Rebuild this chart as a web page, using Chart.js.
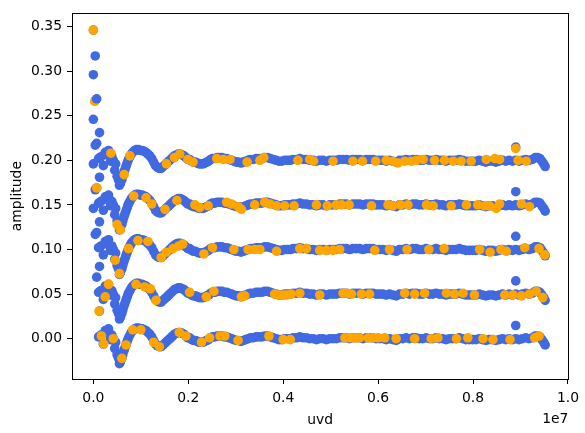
<!DOCTYPE html>
<html><head><meta charset="utf-8">
<script src="https://cdn.jsdelivr.net/npm/chart.js@4.4.1/dist/chart.umd.min.js"></script>
<style>html,body{margin:0;padding:0;background:#fff;}canvas{display:block;}</style>
</head><body>
<canvas id="c" width="585" height="433"></canvas>
<script>
// uvd values are given in units of 1e6
const UVD_UNIT = 1e6;
// vertical offset of each plotted band
const bandOffsets = [0, 0.05, 0.10, 0.15, 0.20];
// [uvd, amplitude] of the full (blue) sample
const bluePoints = [[0.00,0.146],[0.04,0.117],[0.07,0.069],[0.11,0.002],[0.13,0.031],[0.16,0.004],[0.21,-0.006],[0.25,0.009],[0.29,0.006],[0.32,0.011],[0.36,-0.001],[0.39,0.004],[0.42,0.000],[0.45,-0.011],[0.47,-0.004],[0.50,-0.018],[0.53,-0.022],[0.55,-0.028],[0.57,-0.026],[0.60,-0.022],[0.62,-0.018],[0.64,-0.014],[0.66,-0.011],[0.68,-0.008],[0.70,-0.005],[0.72,-0.002],[0.74,0.001],[0.77,0.004],[0.80,0.007],[0.83,0.009],[0.87,0.011],[0.91,0.012],[0.95,0.012],[0.99,0.011],[1.03,0.011],[1.07,0.010],[1.11,0.009],[1.15,0.007],[1.19,0.005],[1.23,0.002],[1.27,-0.002],[1.31,-0.006],[1.35,-0.008],[1.39,-0.009],[1.43,-0.009],[1.47,-0.007],[1.51,-0.005],[1.55,-0.003],[1.59,-0.001],[1.63,0.001],[1.67,0.003],[1.71,0.005],[1.75,0.006],[1.79,0.007],[1.83,0.007],[1.87,0.006],[1.91,0.005],[1.95,0.003],[1.99,0.001],[2.03,0.001],[2.07,-0.001],[2.11,-0.002],[2.15,-0.002],[2.19,-0.003],[2.23,-0.004],[2.27,-0.004],[2.31,-0.004],[2.35,-0.003],[2.39,-0.002],[2.43,-0.001],[2.47,0.001],[2.51,0.002],[2.56,0.002],[2.61,0.003],[2.66,0.003],[2.71,0.003],[2.76,0.002],[2.81,0.002],[2.86,0.001],[2.91,0.000],[2.96,-0.001],[3.01,-0.002],[3.06,-0.002],[3.11,-0.003],[3.16,-0.002],[3.21,-0.001],[3.26,0.000],[3.31,0.001],[3.37,0.001],[3.43,0.002],[3.49,0.002],[3.55,0.002],[3.61,0.003],[3.67,0.003],[3.73,0.002],[3.79,0.001],[3.85,0.000],[3.91,-0.001],[3.97,-0.001],[4.03,0.000],[4.09,0.000],[4.15,0.000],[4.21,0.001],[4.28,0.001],[4.35,0.002],[4.42,0.001],[4.49,0.001],[4.56,0.000],[4.63,0.000],[4.70,-0.001],[4.77,0.000],[4.84,0.000],[4.91,-0.001],[4.98,0.000],[5.05,0.000],[5.12,0.000],[5.19,0.001],[5.26,0.001],[5.33,0.001],[5.40,0.000],[5.47,0.001],[5.54,0.001],[5.61,0.001],[5.68,0.000],[5.75,0.001],[5.82,0.001],[5.89,0.001],[5.96,0.000],[6.03,0.000],[6.10,0.000],[6.17,-0.001],[6.24,0.000],[6.31,-0.001],[6.38,-0.002],[6.45,0.000],[6.52,0.000],[6.59,0.001],[6.66,0.000],[6.73,0.001],[6.80,0.001],[6.87,0.000],[6.94,0.000],[7.01,0.001],[7.08,0.000],[7.15,0.000],[7.22,0.001],[7.29,0.000],[7.36,0.000],[7.43,-0.001],[7.50,0.000],[7.57,0.000],[7.64,0.000],[7.71,0.001],[7.78,0.000],[7.85,-0.001],[7.92,-0.001],[7.99,-0.001],[8.06,-0.001],[8.13,0.000],[8.20,-0.001],[8.27,-0.002],[8.34,-0.001],[8.41,-0.001],[8.48,-0.002],[8.55,-0.001],[8.62,0.000],[8.69,-0.001],[8.76,0.000],[8.83,-0.001],[8.90,0.000],[8.90,0.0148],[8.97,-0.001],[9.04,0.000],[9.11,0.001],[9.18,0.000],[9.25,0.001],[9.31,0.003],[9.36,0.003],[9.41,0.002],[9.45,-0.001],[9.49,-0.004],[9.52,-0.007]];
// [uvd, amplitude] of the highlighted (orange) points of each band, before the band offset
const orangeBand0 = [[0.12,0.031],[0.17,0.003],[0.22,-0.006],[0.42,0.000],[0.60,-0.022],[0.69,-0.007],[0.83,0.010],[1.00,0.010],[1.27,-0.004],[1.39,-0.009],[1.81,0.007],[1.95,0.003],[2.28,-0.004],[2.45,0.001],[2.67,0.003],[2.77,0.003],[3.05,-0.002],[3.70,0.003],[4.00,-0.001],[4.15,-0.001],[5.30,0.001],[5.40,0.001],[5.47,0.001],[5.54,0.001],[5.61,0.001],[5.79,0.001],[5.89,0.001],[6.00,0.001],[6.14,0.001],[6.38,0.000],[6.77,0.000],[7.12,0.000],[7.26,0.001],[7.65,0.000],[7.89,0.001],[8.21,0.000],[8.42,-0.001],[8.78,-0.001],[9.30,0.001],[9.39,0.003]];
const orangeBand1 = [[0.25,-0.003],[0.32,0.011],[0.90,0.011],[1.08,0.008],[1.20,0.006],[1.32,-0.007],[2.03,0.002],[2.38,-0.003],[2.54,0.003],[3.12,-0.003],[3.19,-0.002],[3.82,0.000],[3.92,-0.001],[4.00,-0.001],[4.07,-0.001],[4.17,0.000],[4.35,0.001],[4.77,-0.001],[5.26,0.001],[5.35,0.001],[5.44,0.000],[5.65,0.000],[5.82,0.000],[6.56,0.001],[6.77,0.000],[6.98,0.001],[7.44,0.001],[7.61,0.000],[7.79,0.001],[8.03,-0.001],[8.67,-0.001],[8.84,-0.001],[9.02,-0.002],[9.19,0.000],[9.33,0.003],[9.47,-0.004]];
const orangeBand2 = [[0.07,0.069],[0.46,-0.012],[0.55,-0.027],[0.74,0.001],[0.94,0.010],[1.15,0.009],[1.43,-0.009],[1.54,-0.003],[1.68,0.001],[1.80,0.004],[1.88,0.006],[2.33,-0.005],[2.51,0.002],[2.96,0.000],[3.26,0.000],[3.40,0.000],[3.51,0.000],[3.86,-0.002],[4.35,0.001],[4.49,0.001],[4.77,-0.001],[4.91,-0.001],[5.05,-0.001],[5.19,0.000],[5.93,-0.001],[6.24,0.000],[6.61,0.000],[7.07,0.000],[7.39,0.001],[8.14,0.000],[8.36,-0.003],[8.59,0.000],[8.70,-0.002],[9.09,0.002],[9.39,0.001],[9.51,-0.006]];
const orangeBand3 = [[0.03,0.116],[0.50,-0.022],[0.57,-0.028],[0.85,0.010],[1.11,0.008],[1.23,0.001],[1.51,-0.005],[1.76,0.005],[2.14,0.000],[2.24,-0.003],[2.42,-0.001],[2.81,0.003],[2.91,0.001],[3.05,-0.002],[3.12,-0.005],[3.40,0.000],[3.61,0.003],[3.72,0.001],[3.86,-0.001],[4.03,-0.001],[4.23,-0.001],[4.70,0.000],[4.93,-0.001],[5.12,0.000],[5.23,0.000],[5.39,0.000],[5.86,-0.001],[6.21,0.000],[6.31,-0.001],[6.47,0.000],[6.63,0.000],[7.02,0.000],[7.16,-0.001],[7.54,-0.001],[7.86,0.000],[8.10,0.000],[8.25,-0.001],[8.35,-0.001],[8.49,-0.004],[8.56,0.001],[9.02,0.001],[9.19,-0.002]];
const orangeBand4 = [[0.00,0.146],[0.37,0.008],[0.65,-0.016],[0.77,0.005],[1.54,-0.004],[1.71,0.003],[1.82,0.007],[1.99,0.001],[2.10,-0.002],[2.60,0.002],[2.74,0.001],[2.88,0.001],[3.24,-0.002],[3.51,0.000],[3.59,0.003],[4.31,0.000],[4.56,0.001],[4.64,-0.001],[5.05,-0.001],[5.47,-0.001],[5.67,-0.001],[5.95,-0.001],[6.17,0.000],[6.31,-0.001],[6.42,-0.003],[6.56,-0.001],[6.70,-0.001],[6.81,0.000],[6.95,0.001],[7.19,0.000],[7.40,0.000],[7.58,-0.001],[7.75,-0.001],[7.96,-0.001],[8.28,0.001],[8.46,0.002],[8.56,0.001],[8.90,0.0133],[8.95,0.000],[9.12,-0.001]];
const orangeBands = [orangeBand0, orangeBand1, orangeBand2, orangeBand3, orangeBand4];
// axis ticks
const xTicks = [0, 2e6, 4e6, 6e6, 8e6, 1e7];
const yTicks = [0, 0.05, 0.10, 0.15, 0.20, 0.25, 0.30, 0.35];

const FONT_FAMILY = "'DejaVu Sans', sans-serif";
const FONT_SIZE = 13.9;
const BLUE = '#4169e1', ORANGE = '#ffa500';
const R = 4.8;

const datasets = [];
bandOffsets.forEach((off, k) => {
  datasets.push({
    label: 'all ' + k,
    data: bluePoints.map(([u, a]) => ({x: u * UVD_UNIT, y: a + off})),
    backgroundColor: BLUE, borderWidth: 0, pointRadius: R, pointBorderWidth: 0,
    order: 100 - 2 * k
  });
  datasets.push({
    label: 'selected ' + k,
    data: orangeBands[k].map(([u, a]) => ({x: u * UVD_UNIT, y: a + off})),
    backgroundColor: ORANGE, borderWidth: 0, pointRadius: R, pointBorderWidth: 0,
    order: 99 - 2 * k
  });
});

const framePlugin = {
  id: 'frame',
  afterDraw(chart) {
    const {ctx, chartArea: a} = chart;
    ctx.save();
    ctx.strokeStyle = '#000';
    ctx.lineWidth = 1;
    ctx.strokeRect(Math.round(a.left) + 0.5, Math.round(a.top) + 0.5,
                   Math.round(a.right - a.left), Math.round(a.bottom - a.top));
    ctx.fillStyle = '#000';
    ctx.font = FONT_SIZE + 'px ' + FONT_FAMILY;
    ctx.textAlign = 'right';
    ctx.textBaseline = 'alphabetic';
    ctx.fillText('1e7', a.right, 423);
    ctx.restore();
  }
};

Chart.defaults.font.family = FONT_FAMILY;
Chart.defaults.font.size = FONT_SIZE;
Chart.defaults.color = '#000';

new Chart(document.getElementById('c'), {
  type: 'scatter',
  data: {datasets},
  options: {
    responsive: false,
    animation: false,
    events: [],
    devicePixelRatio: 1,
    layout: {padding: {left: 0, right: 16, top: 10, bottom: 0}},
    plugins: {legend: {display: false}, tooltip: {enabled: false}},
    scales: {
      x: {
        type: 'linear', min: -0.45e6, max: 10.01e6,
        afterBuildTicks: s => { s.ticks = xTicks.map(v => ({value: v})); },
        afterFit: s => { s.height = 54; },
        ticks: {callback: v => (v / 1e7).toFixed(1), padding: 6, maxRotation: 0, autoSkip: false, color: '#000'},
        grid: {display: true, drawOnChartArea: false, drawTicks: true, tickLength: 5, color: '#000', lineWidth: 1},
        border: {display: false},
        title: {display: true, text: 'uvd', color: '#000', padding: {top: 0, bottom: 4}, font: {size: FONT_SIZE, lineHeight: 1.2}}
      },
      y: {
        type: 'linear', min: -0.0452, max: 0.3648,
        afterBuildTicks: s => { s.ticks = yTicks.map(v => ({value: v})); },
        afterFit: s => { s.width = 72; },
        ticks: {callback: v => v.toFixed(2), padding: 5, autoSkip: false, color: '#000'},
        grid: {display: true, drawOnChartArea: false, drawTicks: true, tickLength: 5, color: '#000', lineWidth: 1},
        border: {display: false},
        title: {display: true, text: 'amplitude', color: '#000', padding: {top: 9.5, bottom: 0}, font: {size: FONT_SIZE, lineHeight: 1.2}}
      }
    }
  },
  plugins: [framePlugin]
});
</script>
</body></html>
